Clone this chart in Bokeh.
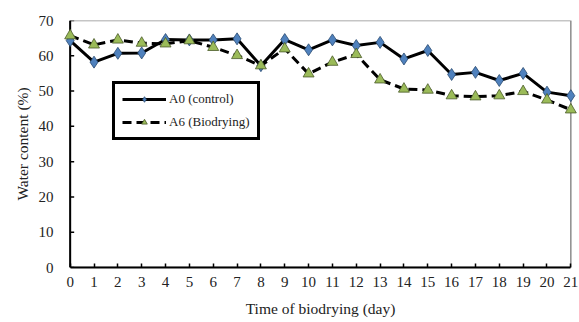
from bokeh.plotting import figure
from bokeh.models import Range1d, FixedTicker, Legend, LegendItem, BoxAnnotation, Span
from bokeh.embed import file_html
from bokeh.resources import INLINE

days = list(range(22))
a0 = [64.3, 58.2, 60.7, 60.8, 64.6, 64.5, 64.5, 64.8, 57.2, 64.6, 61.7, 64.5,
      62.9, 63.8, 59.1, 61.5, 54.7, 55.3, 53.0, 55.0, 49.7, 48.7]
a6 = [65.7, 63.1, 64.5, 63.6, 63.4, 64.3, 62.4, 60.1, 57.2, 62.0, 54.9, 58.2,
      60.4, 53.2, 50.6, 50.3, 48.7, 48.4, 48.7, 49.9, 47.5, 44.7]
x_ticks = list(range(22))
y_ticks = [0, 10, 20, 30, 40, 50, 60, 70]
labels = ["A0 (control)", "A6 (Biodrying)"]
x_title = "Time of biodrying (day)"
y_title = "Water content (%)"

FONT = "Liberation Serif"
PAD = 0.28

p = figure(width=578, height=320, output_backend="svg", toolbar_location=None,
           x_range=Range1d(x_ticks[0] - PAD, x_ticks[-1] + PAD),
           y_range=Range1d(y_ticks[0], y_ticks[-1]),
           min_border_left=63, min_border_right=1, min_border_top=20, min_border_bottom=53)
p.xgrid.visible = False
p.ygrid.visible = False
p.outline_line_color = None
p.background_fill_color = "white"
p.border_fill_color = "white"

frame = BoxAnnotation(left=x_ticks[0], right=x_ticks[-1], bottom=y_ticks[0], top=y_ticks[-1],
                      fill_alpha=0, line_color="#8c8c8c", line_alpha=1, line_width=1.5,
                      level="underlay")
p.add_layout(frame)
p.add_layout(Span(location=x_ticks[0], dimension="height", line_color="black",
                  line_width=2, level="underlay"))
p.ray(x=[x_ticks[0]] * len(y_ticks), y=y_ticks, length=4, length_units="screen",
      angle=0, line_color="black", line_width=1.5, level="underlay")

l0 = p.line(days, a0, line_color="black", line_width=3)
m0 = p.scatter(days, a0, marker="diamond", size=12, fill_color="#4F81BD",
               line_color="#2a4a70", line_width=0.8)
l6 = p.line(days, a6, line_color="black", line_width=3, line_dash="9 5")
m6 = p.scatter(days, a6, marker="triangle", size=11, fill_color="#9BBB59",
               line_color="#4a5a2a", line_width=0.8)

for ax in (p.xaxis[0], p.yaxis[0]):
    ax.axis_line_color = "black"
    ax.axis_line_width = 2
    ax.major_tick_line_color = "black"
    ax.major_tick_line_width = 1.5
    ax.major_tick_in = 4
    ax.major_tick_out = 0
    ax.minor_tick_line_color = None
    ax.major_label_text_font = FONT
    ax.major_label_text_font_size = "15px"
    ax.major_label_text_color = "#222222"
    ax.axis_label_text_font = FONT
    ax.axis_label_text_font_size = "15.5px"
    ax.axis_label_text_font_style = "normal"
    ax.axis_label_text_color = "#222222"

p.yaxis.axis_line_color = None
p.yaxis.major_tick_line_color = None
p.xaxis.ticker = FixedTicker(ticks=x_ticks)
p.yaxis.ticker = FixedTicker(ticks=y_ticks)
p.xaxis.bounds = (x_ticks[0], x_ticks[-1])
p.xaxis.axis_label = x_title
p.yaxis.axis_label = y_title
p.xaxis.major_label_standoff = 9
p.xaxis.axis_label_standoff = 10
p.yaxis.major_label_standoff = 10
p.yaxis.axis_label_standoff = 5

legend = Legend(items=[LegendItem(label=labels[0], renderers=[l0, m0]),
                       LegendItem(label=labels[1], renderers=[l6, m6])],
                location=(49, 127))
legend.border_line_color = "black"
legend.border_line_alpha = 1
legend.border_line_width = 3
legend.background_fill_color = "white"
legend.background_fill_alpha = 1
legend.label_text_font = FONT
legend.label_text_font_size = "13px"
legend.label_text_color = "#222222"
legend.glyph_width = 44
legend.glyph_height = 14
legend.spacing = 7
legend.padding = 7
legend.margin = 0
legend.label_standoff = 3
p.add_layout(legend)

open("out.html", "w").write(file_html(p, INLINE))
